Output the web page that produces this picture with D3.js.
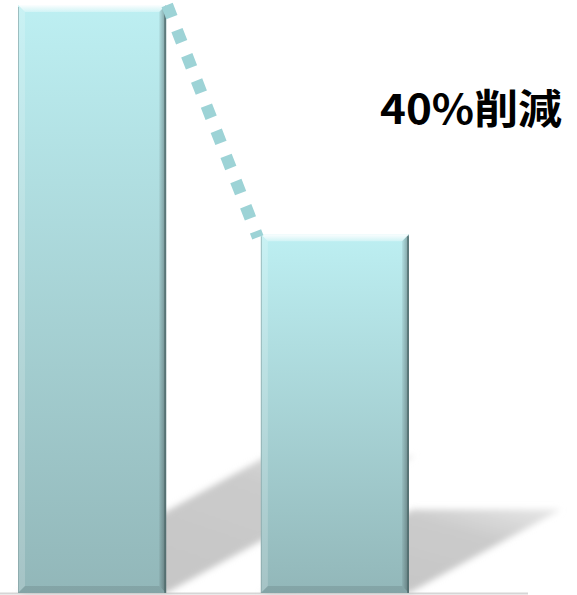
<!DOCTYPE html>
<html>
<head>
<meta charset="utf-8">
<script src="https://cdn.jsdelivr.net/npm/d3@7"></script>
<style>
  html, body { margin: 0; padding: 0; background: #fff; }
  svg { display: block; }
</style>
</head>
<body>
<div id="chart"></div>
<script>
// data
var categories = ["導入前", "導入後"];
var values = [100, 61];
var labelText = "40%削減";

var width = 577, height = 595;
var baseY = 593, topY = 5;

var svg = d3.select("#chart").append("svg")
    .attr("width", width)
    .attr("height", height);

var x = d3.scaleBand().domain(categories).range([18, 409]).paddingInner(0.39).paddingOuter(0);
var y = d3.scaleLinear().domain([0, 100]).range([baseY, topY]);

var defs = svg.append("defs");

var grad = defs.append("linearGradient").attr("id", "barFill")
    .attr("x1", 0).attr("y1", 0).attr("x2", 0).attr("y2", 1);
grad.append("stop").attr("offset", "0%").attr("stop-color", "#bdeff2");
grad.append("stop").attr("offset", "100%").attr("stop-color", "#92b7b9");

var topBevel = defs.append("linearGradient").attr("id", "topBevel")
    .attr("x1", 0).attr("y1", 0).attr("x2", 0).attr("y2", 1);
topBevel.append("stop").attr("offset", "0%").attr("stop-color", "#fff").attr("stop-opacity", 0.95);
topBevel.append("stop").attr("offset", "100%").attr("stop-color", "#fff").attr("stop-opacity", 0.3);

var rightBevel = defs.append("linearGradient").attr("id", "rightBevel")
    .attr("x1", 0).attr("y1", 0).attr("x2", 1).attr("y2", 0);
rightBevel.append("stop").attr("offset", "0%").attr("stop-color", "#000").attr("stop-opacity", 0.05);
rightBevel.append("stop").attr("offset", "100%").attr("stop-color", "#000").attr("stop-opacity", 0.35);

var shadowGrad = defs.append("linearGradient").attr("id", "shadowFill")
    .attr("x1", 0).attr("y1", 1).attr("x2", 1).attr("y2", 0);
shadowGrad.append("stop").attr("offset", "0%").attr("stop-color", "#c4c4c4");
shadowGrad.append("stop").attr("offset", "70%").attr("stop-color", "#cbcbcb");
shadowGrad.append("stop").attr("offset", "100%").attr("stop-color", "#e8e8e8");

defs.append("filter").attr("id", "blur")
    .attr("x", "-20%").attr("y", "-20%").attr("width", "140%").attr("height", "140%")
  .append("feGaussianBlur").attr("stdDeviation", 3);

// baseline
svg.append("line")
    .attr("x1", 0).attr("x2", 528)
    .attr("y1", baseY + 0.5).attr("y2", baseY + 0.5)
    .attr("stroke", "#d6d6d6").attr("stroke-width", 2);

// cast shadows
svg.append("g").selectAll("path")
    .data(values)
    .join("path")
    .attr("fill", "url(#shadowFill)")
    .attr("filter", "url(#blur)")
    .attr("d", function(d, i) {
      var x0 = x(categories[i]), x1 = x0 + x.bandwidth();
      var h = baseY - y(d);
      var dy = 0.233 * h, dx = dy / 0.55;
      return "M" + x0 + "," + baseY + "L" + x1 + "," + baseY +
             "L" + (x1 + dx) + "," + (baseY - dy) + "L" + (x0 + dx) + "," + (baseY - dy) + "Z";
    });

// bars
var bars = svg.append("g").selectAll("g")
    .data(values)
    .join("g")
    .attr("transform", function(d, i) { return "translate(" + x(categories[i]) + ",0)"; });

var bw = x.bandwidth(), b = 7;

bars.append("rect")
    .attr("x", 0).attr("y", function(d) { return y(d); })
    .attr("width", bw).attr("height", function(d) { return baseY - y(d); })
    .attr("fill", "url(#barFill)");

// top bevel
bars.append("path")
    .attr("fill", "url(#topBevel)")
    .attr("d", function(d) {
      var t = y(d);
      return "M0," + t + "L" + bw + "," + t + "L" + (bw - b) + "," + (t + b) + "L" + b + "," + (t + b) + "Z";
    });
// left bevel
bars.append("path")
    .attr("fill", "#fff").attr("fill-opacity", 0.18)
    .attr("d", function(d) {
      var t = y(d);
      return "M0," + t + "L" + b + "," + (t + b) + "L" + b + "," + (baseY - b) + "L0," + baseY + "Z";
    });
// right bevel
bars.append("path")
    .attr("fill", "url(#rightBevel)")
    .attr("d", function(d) {
      var t = y(d);
      return "M" + bw + "," + t + "L" + (bw - b) + "," + (t + b) + "L" + (bw - b) + "," + (baseY - b) + "L" + bw + "," + baseY + "Z";
    });
// bottom bevel
bars.append("path")
    .attr("fill", "#000").attr("fill-opacity", 0.1)
    .attr("d", function() {
      return "M0," + baseY + "L" + b + "," + (baseY - b) + "L" + (bw - b) + "," + (baseY - b) + "L" + bw + "," + baseY + "Z";
    });
// edge lines
bars.append("line")
    .attr("x1", 0.5).attr("x2", 0.5)
    .attr("y1", function(d) { return y(d) + 2; }).attr("y2", baseY)
    .attr("stroke", "#7f9c9e").attr("stroke-opacity", 0.6);
bars.append("line")
    .attr("x1", bw - 1).attr("x2", bw - 1)
    .attr("y1", function(d) { return y(d) + 2; }).attr("y2", baseY)
    .attr("stroke", "#4f6a6b").attr("stroke-width", 2).attr("stroke-opacity", 0.7);

// dotted connector from bar 1 top-right to bar 2 top-left
svg.append("line")
    .attr("x1", x(categories[0]) + bw + 1).attr("y1", y(values[0]))
    .attr("x2", x(categories[1]) - 3).attr("y2", y(values[1]) + 3)
    .attr("stroke", "#9dd3d6")
    .attr("stroke-width", 12)
    .attr("stroke-dasharray", "13,14");

// label
svg.append("text")
    .attr("x", 380).attr("y", 124)
    .attr("font-family", "'Noto Sans CJK JP', 'Noto Sans', sans-serif")
    .attr("font-weight", "bold")
    .attr("font-size", 41)
    .attr("textLength", 182)
    .attr("lengthAdjust", "spacingAndGlyphs")
    .attr("fill", "#000")
    .text(labelText);
</script>
</body>
</html>
